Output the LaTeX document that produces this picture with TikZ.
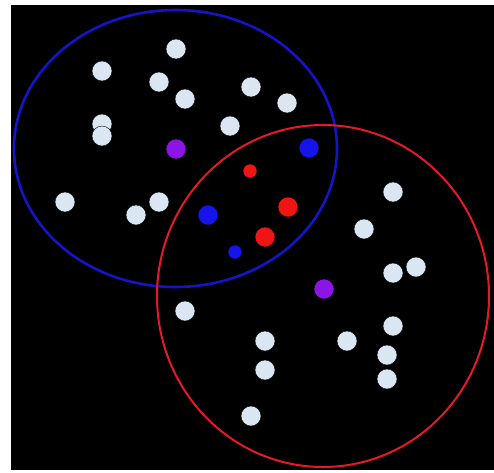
\documentclass[tikz,border=0pt]{standalone}
\usepackage{tikz}
\usetikzlibrary{backgrounds}

\definecolor{ptwhite}{RGB}{218,230,242}
\definecolor{ptblue}{RGB}{20,20,235}
\definecolor{ptred}{RGB}{240,20,20}
\definecolor{ptpurple}{RGB}{140,20,230}
\definecolor{rimblue}{RGB}{20,20,200}
\definecolor{rimred}{RGB}{230,25,40}

\begin{document}
\begin{tikzpicture}[x=1pt, y=-1pt,
  dot/.style={circle, inner sep=0pt, minimum size=20pt, draw=black, line width=0.4pt},
  wdot/.style={dot, fill=ptwhite},
  bdot/.style={dot, fill=ptblue},
  rdot/.style={dot, fill=ptred},
  pdot/.style={dot, fill=ptpurple},
  small/.style={minimum size=14pt}]

\useasboundingbox (0,0) rectangle (494,472);
\fill[white] (0,0) rectangle (494,472);
\fill[black] (11,5) rectangle (494,470);

%-- the two clusters
\draw[rimblue, line width=2.6pt] (175.5,148.5) ellipse [x radius=161.5, y radius=138.5];
\draw[rimred,  line width=2pt]   (323,296) ellipse [x radius=166, y radius=171];

%-- plain points, upper cluster
\foreach \x/\y [count=\i] in {176/49, 102/71, 159/82, 185/99, 251/87, 287/103,
    102/124, 102/136, 230/126, 65/202, 136/215, 159/202}
  \node[wdot] (u\i) at (\x,\y) {};

%-- plain points, lower cluster
\foreach \x/\y [count=\i] in {393/192, 364/229, 393/273, 416/267, 185/311, 393/326,
    265/341, 347/341, 387/355, 265/370, 387/379, 251/416}
  \node[wdot] (l\i) at (\x,\y) {};

%-- centres
\node[pdot] (cu) at (176,149) {};
\node[pdot] (cl) at (324,289) {};

%-- points in the overlap
\node[bdot]        (b1) at (309,148) {};
\node[bdot]        (b2) at (208,215) {};
\node[bdot, small] (b3) at (235,252) {};
\node[rdot, small] (r1) at (250,171) {};
\node[rdot]        (r2) at (288,207) {};
\node[rdot]        (r3) at (265,237) {};

\end{tikzpicture}
\end{document}
